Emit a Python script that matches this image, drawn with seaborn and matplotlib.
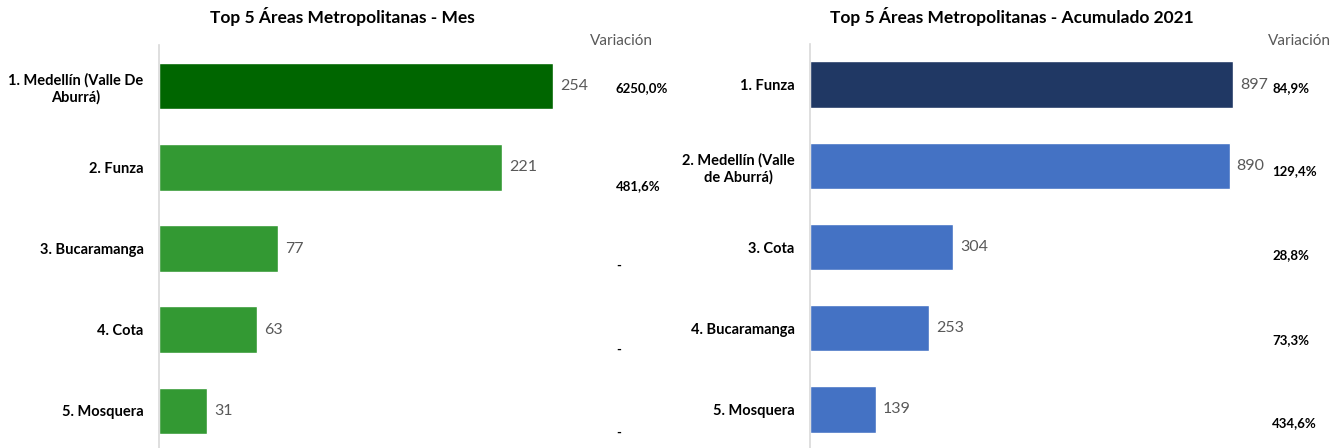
import pandas as pd
import numpy as np
import matplotlib.pyplot as plt
import seaborn as sns

sns.set_theme(style="white")
plt.rcParams['font.family'] = ['Lato', 'DejaVu Sans']

# --- Data ---
mes_areas = ['1. Medellín (Valle De\nAburrá)', '2. Funza', '3. Bucaramanga', '4. Cota', '5. Mosquera']
mes_values = [254, 221, 77, 63, 31]
mes_variacion = ['6250,0%', '481,6%', '-', '-', '-']

acum_areas = ['1. Funza', '2. Medellín (Valle\nde Aburrá)', '3. Cota', '4. Bucaramanga', '5. Mosquera']
acum_values = [897, 890, 304, 253, 139]
acum_variacion = ['84,9%', '129,4%', '28,8%', '73,3%', '434,6%']

mes_colors = ['#006600', '#339933', '#339933', '#339933', '#339933']
acum_colors = ['#203864', '#4472C4', '#4472C4', '#4472C4', '#4472C4']

# vertical offsets of the "Variación" column (they are not centred on the bars)
mes_var_offset = [0.02, 0.23, 0.21, 0.25, 0.27]
acum_var_offset = [0.04, 0.06, 0.10, 0.15, 0.17]

W, H = 1343, 448
fig = plt.figure(figsize=(W / 100, H / 100), dpi=100)


def px_axes(x0, x1, y0, y1):
    return fig.add_axes([x0 / W, 1 - y1 / H, (x1 - x0) / W, (y1 - y0) / H])


def draw_panel(ax, areas, values, colors, variacion, var_offset, xmax, var_x, title, title_x, var_head_x, pad):
    df = pd.DataFrame({'area': areas, 'value': values})
    sns.barplot(data=df, y='area', x='value', hue='area', palette=colors,
                orient='h', width=0.573, legend=False, ax=ax, saturation=1)
    ax.set_xlim(0, xmax)
    ax.set_ylim(4.5, -0.5)
    ax.set_xlabel('')
    ax.set_ylabel('')
    ax.set_xticks([])
    for s in ['top', 'right', 'bottom']:
        ax.spines[s].set_visible(False)
    ax.spines['left'].set_color('#d9d9d9')
    ax.spines['left'].set_linewidth(1.2)
    ax.tick_params(axis='y', length=0, pad=pad)
    for lab in ax.get_yticklabels():
        lab.set_fontweight('bold')
        lab.set_fontsize(10.5)
        lab.set_color('black')
        lab.set_multialignment('center')
    for cont in ax.containers:
        ax.bar_label(cont, fmt='%d', padding=5, fontsize=11.5, color='#595959')
    for i, v in enumerate(variacion):
        ax.text(var_x, i + var_offset[i], v, transform=ax.get_yaxis_transform(),
                ha='left', va='center', fontsize=9.5, fontweight='bold', color='black', clip_on=False)
    fig.text(title_x / W, 1 - 17 / H, title, ha='center', va='center',
             fontsize=12.5, fontweight='bold', color='black')
    fig.text(var_head_x / W, 1 - 41 / H, 'Variación', ha='center', va='center',
             fontsize=11, color='#595959')
    return ax


ax1 = px_axes(159, 600, 45.5, 451.5)
draw_panel(ax1, mes_areas, mes_values, mes_colors, mes_variacion, mes_var_offset,
           xmax=(600 - 159) / ((553 - 159) / 254), var_x=(616 - 159) / (600 - 159),
           title='Top 5 Áreas Metropolitanas - Mes', title_x=342, var_head_x=621, pad=11)

ax2 = px_axes(810, 1270, 44, 450)
draw_panel(ax2, acum_areas, acum_values, acum_colors, acum_variacion, acum_var_offset,
           xmax=(1270 - 810) / ((1233 - 810) / 897), var_x=(1272 - 810) / (1270 - 810),
           title='Top 5 Áreas Metropolitanas - Acumulado 2021', title_x=1012, var_head_x=1299, pad=11)

plt.savefig('out.png', dpi=100)
